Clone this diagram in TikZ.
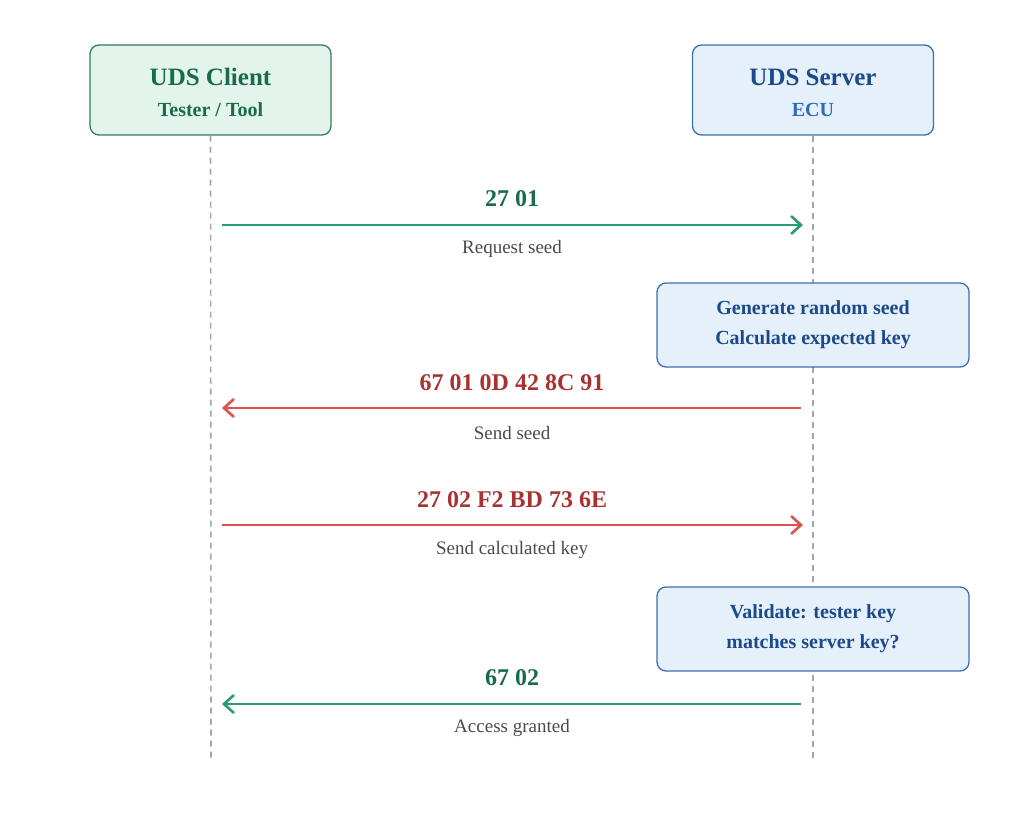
\documentclass[tikz,border=0pt]{standalone}
\usepackage{fontspec}
\setmainfont{Liberation Serif}
\usetikzlibrary{arrows.meta}
\definecolor{gfill}{HTML}{E3F4EC}\definecolor{gdraw}{HTML}{2E7D5B}\definecolor{gtext}{HTML}{1A6B4A}
\definecolor{bfill}{HTML}{E6F0FB}\definecolor{bdraw}{HTML}{3A6FB0}\definecolor{btext}{HTML}{1B4A8A}\definecolor{btext2}{HTML}{2A6CB8}
\definecolor{rarrow}{HTML}{E05050}\definecolor{rtext}{HTML}{A83232}\definecolor{garrow}{HTML}{2A9D6E}
\definecolor{note}{HTML}{4A4A4A}
\begin{document}
\begin{tikzpicture}[x=1pt,y=-1pt,
 actor/.style={draw,line width=1.3pt,rounded corners=9pt,minimum width=241pt,minimum height=90pt},
 title/.style={font=\fontsize{25}{30}\selectfont\bfseries},
 sub/.style={font=\fontsize{20}{24}\selectfont\bfseries},
 proc/.style={draw=bdraw,fill=bfill,line width=1.3pt,rounded corners=9pt,minimum width=312pt,minimum height=84pt,align=center,font=\fontsize{20}{30}\selectfont\bfseries,text=btext},
 life/.style={draw=gray!70,line width=1.6pt,dash pattern=on 6pt off 5pt},
 msg/.style={line width=2.6pt,-{Straight Barb[length=10pt,width=18pt,line width=2.6pt]}},
 code/.style={font=\fontsize{24}{28}\selectfont\bfseries},
 lab/.style={font=\fontsize{19}{22}\selectfont,text=note}]
\useasboundingbox (0,0) rectangle (1024,813);
\node[actor,draw=gdraw,fill=gfill] (c) at (210.5,90) {};
\node[title,text=gtext] (ct) at (210.5,77) {UDS Client};
\node[sub,text=gtext] (cs) at (210.5,110) {Tester / Tool};
\node[actor,draw=bdraw,fill=bfill] (s) at (813,90) {};
\node[title,text=btext] (st) at (813,77) {UDS Server};
\node[sub,text=btext2] (ss) at (813,110) {ECU};
\coordinate (ce) at (211,760); \coordinate (se) at (813,760);
\draw[life] (c.south) -- (ce);
\draw[life] (s.south) -- (se);
\coordinate (a1l) at (222,225); \coordinate (a1r) at (803,225);
\coordinate (a2l) at (222,408); \coordinate (a2r) at (801,408);
\coordinate (a3l) at (222,525); \coordinate (a3r) at (803,525);
\coordinate (a4l) at (222,704); \coordinate (a4r) at (801,704);
\draw[msg,garrow] (a1l) -- (a1r);
\draw[msg,rarrow] (a2r) -- (a2l);
\draw[msg,rarrow] (a3l) -- (a3r);
\draw[msg,garrow] (a4r) -- (a4l);
\node[code,text=gtext] (m1) at (512,199) {27 01};
\node[lab] (l1) at (512,249) {Request seed};
\node[code,text=rtext] (m2) at (512,383) {67 01 0D 42 8C 91};
\node[lab] (l2) at (512,433) {Send seed};
\node[code,text=rtext] (m3) at (512,500) {27 02 F2 BD 73 6E};
\node[lab] (l3) at (512,550) {Send calculated key};
\node[code,text=gtext] (m4) at (512,678) {67 02};
\node[lab] (l4) at (512,728) {Access granted};
\node[proc] (p1) at (813,325) {Generate random seed\\Calculate expected key};
\node[proc] (p2) at (813,629) {Validate: tester key\\matches server key?};
\end{tikzpicture}
\end{document}
